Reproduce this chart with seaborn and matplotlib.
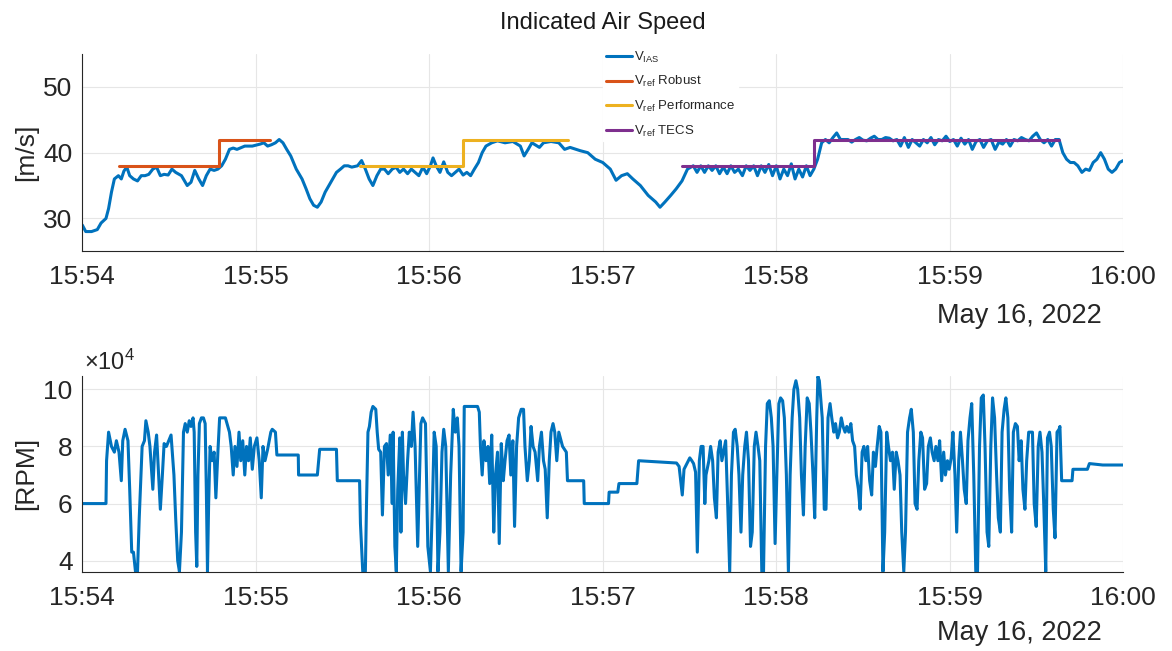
import numpy as np
import pandas as pd
import matplotlib
matplotlib.use("Agg")
import matplotlib.pyplot as plt
import matplotlib.dates as mdates
import seaborn as sns

# ---------------------------------------------------------------- data
START = pd.Timestamp("2022-05-16 15:54:00")

# indicated air speed, seconds after 15:54:00 and m/s
ias_sec = [
    0.0, 1.2, 3.2, 5.2, 6.5, 8.2, 9.1, 10.1, 11.1, 12.5,
    13.5, 14.4, 15.4, 16.4, 17.7, 19.1, 20.4, 21.7, 23.0, 24.4,
    25.7, 27.0, 28.3, 29.7, 31.0, 32.3, 34.3, 36.3, 37.6, 38.9,
    40.3, 41.6, 42.9, 44.2, 45.6, 46.9, 48.2, 49.5, 50.9, 52.2,
    53.5, 56.2, 58.8, 61.5, 62.8, 64.1, 65.4, 66.8, 68.1, 69.4,
    70.7, 72.1, 74.0, 76.0, 77.4, 78.7, 80.0, 81.3, 82.6, 84.0,
    85.3, 86.6, 87.9, 89.3, 90.6, 91.9, 93.2, 95.2, 96.6, 97.9,
    99.2, 100.5, 101.9, 103.2, 104.5, 105.8, 107.2, 108.5, 109.8, 111.1,
    112.5, 113.8, 115.1, 116.4, 117.8, 119.1, 120.4, 121.3, 122.4, 123.7,
    125.0, 126.4, 127.7, 129.0, 130.3, 131.7, 133.0, 134.3, 135.6, 137.0,
    138.3, 139.6, 141.6, 143.6, 146.2, 148.9, 151.5, 152.8, 154.2, 155.5,
    158.1, 159.5, 162.1, 164.8, 166.8, 168.7, 170.1,
    172.2, 174.8, 177.4, 180.0, 182.6, 184.6, 186.5, 188.5, 190.4, 193.0,
    195.7, 198.3, 199.8, 201.5, 203.5, 205.4, 207.4, 209.3,
    211.3, 212.6, 213.9, 215.2, 216.5, 217.8, 219.1, 220.4, 221.7, 223.0,
    224.3, 225.6, 226.9, 228.3, 229.6, 230.9, 232.2, 233.5, 234.8, 236.1,
    237.4, 238.7, 240.0, 241.3, 242.6, 243.9, 245.2, 246.5, 247.8, 249.1,
    250.4, 251.7, 253.0, 254.3, 255.7, 257.0, 258.3, 259.6, 260.9, 262.2,
    263.5, 264.8, 266.1, 267.4, 268.7, 270.0, 271.3, 272.6, 273.9, 275.2,
    276.5, 277.8, 279.1, 280.4, 281.7, 283.0, 284.3, 285.7, 287.0, 288.3,
    289.6, 290.9, 292.2, 293.5, 294.8, 296.1, 297.4, 298.7, 300.0, 301.3,
    302.6, 303.9, 305.2, 306.5, 307.8, 309.1, 310.4, 311.7, 313.0, 314.3,
    315.7, 317.0, 318.3, 319.6, 320.9, 322.2, 323.5, 324.8, 326.1, 327.4,
    328.7, 330.0, 331.3, 332.6, 333.9, 335.2, 336.5, 337.8, 339.1, 340.4,
    341.7, 343.0, 344.3, 345.7, 347.0, 348.3, 349.6, 350.9, 352.2, 353.5,
    354.8, 356.1, 357.4, 358.7, 360.0,
]
ias_val = [
    29.0, 28.0, 28.0, 28.3, 29.3, 30.0, 31.5, 34.0, 36.0, 36.5,
    36.0, 37.2, 37.8, 36.5, 36.0, 35.7, 36.5, 36.5, 36.7, 37.5,
    37.8, 36.5, 36.7, 36.6, 37.5, 37.0, 36.5, 35.0, 35.5, 37.3,
    36.0, 35.0, 36.5, 37.5, 37.3, 37.5, 38.0, 39.0, 40.5, 40.7,
    40.5, 41.0, 41.0, 41.3, 41.5, 41.0, 41.2, 41.5, 42.0, 41.5,
    40.5, 39.5, 37.5, 36.0, 34.5, 33.0, 32.0, 31.7, 32.5, 34.0,
    35.0, 36.0, 37.0, 37.5, 38.0, 38.0, 37.8, 38.0, 38.8, 37.5,
    36.0, 35.0, 36.5, 37.5, 37.5, 36.8, 37.5, 37.8, 37.0, 37.5,
    36.8, 37.5, 37.0, 36.5, 37.8, 36.8, 38.0, 39.2, 38.0, 37.0,
    38.6, 37.0, 36.5, 37.0, 37.5, 36.6, 37.0, 36.5, 37.5, 38.5,
    40.0, 41.0, 41.5, 41.8, 41.5, 41.7, 41.0, 39.5, 40.5, 41.5,
    40.8, 41.5, 41.7, 41.5, 40.5, 40.8, 40.6,
    40.3, 40.0, 39.0, 38.5, 37.5, 35.8, 36.5, 36.8, 36.0, 35.0,
    33.5, 32.5, 31.7, 32.5, 33.5, 34.5, 35.7, 37.5,
    38.0, 37.0, 38.0, 37.0, 38.0, 37.3, 38.0, 36.8, 37.8, 36.8,
    38.0, 37.0, 37.5, 36.5, 38.0, 37.3, 38.0, 36.5, 38.0, 37.0,
    38.2, 36.5, 38.0, 36.0, 37.5, 36.5, 38.3, 36.0, 37.5, 36.3,
    38.0, 36.5, 37.5, 39.0, 41.5, 42.0, 41.5, 42.3, 43.0, 42.0,
    42.0, 42.0, 41.6, 42.0, 42.3, 41.9, 41.8, 42.2, 42.5, 42.0,
    42.0, 42.3, 42.2, 41.8, 42.0, 41.0, 42.3, 40.8, 42.0, 41.5,
    41.0, 42.0, 41.5, 42.3, 41.2, 42.0, 41.8, 42.5, 41.7, 42.0,
    41.0, 42.2, 41.3, 42.0, 40.5, 41.7, 42.0, 40.8, 41.8, 42.0,
    40.5, 41.6, 41.3, 42.0, 41.0, 42.0, 41.8, 42.3, 42.0, 41.8,
    42.5, 43.0, 42.0, 41.5, 42.0, 41.0, 42.0, 42.0, 40.0, 39.0,
    38.5, 38.5, 38.0, 37.0, 37.5, 37.3, 38.5, 39.0, 40.0, 39.0,
    37.5, 37.0, 37.5, 38.5, 38.8,
]

# speed references of the three controllers (step changes)
robust_sec = [12.7, 47.3, 64.9]
robust_val = [38, 42, 42]
perf_sec = [95.9, 131.5, 168.1]
perf_val = [38, 42, 42]
tecs_sec = [207.5, 252.9, 337.8]
tecs_val = [38, 42, 42]

# motor speed, seconds after 15:54:00 and rpm in units of 1e4
rpm_sec = [
    0.0, 8.2, 8.4, 9.1, 10.1, 11.1, 11.8, 12.7, 13.5, 14.0,
    14.8, 15.8, 16.4, 17.1, 17.7, 18.4, 19.1, 19.7, 20.7, 21.5,
    22.0, 22.8, 23.4, 24.4, 25.0, 25.7, 26.4, 27.0, 27.7, 28.3,
    29.1, 29.9, 30.7, 31.7, 32.3, 33.0, 33.6, 34.3, 35.0, 35.6,
    36.3, 37.0, 37.6, 38.3, 38.7, 39.2, 39.6, 40.0, 40.5, 41.2,
    41.9, 42.5, 42.9, 43.3, 43.7, 44.2, 44.9, 45.6, 46.2, 46.9,
    47.5, 49.5, 50.9, 51.5, 52.2, 52.8, 53.5, 54.2, 54.8, 55.5,
    56.2, 56.8, 57.5, 58.1, 58.8, 59.5, 60.4, 61.2, 61.9, 62.5,
    63.2, 64.1, 65.2, 65.7, 66.8, 67.3, 74.7, 74.8, 81.3, 82.1,
    87.9, 88.2, 95.9, 96.2, 97.0, 97.9, 98.3, 98.8, 99.3, 99.9,
    100.5, 101.5, 102.0, 102.5, 103.2, 103.8, 104.5, 105.2, 105.8, 106.5,
    107.2, 107.5, 108.1, 108.6, 109.1, 109.8, 110.2, 110.7, 111.1, 111.8,
    112.5, 113.1, 113.8, 114.4, 115.1, 115.5, 116.0, 117.1, 117.7, 118.7,
    119.5, 120.4, 121.1, 121.7, 122.4, 123.0, 123.7, 124.4, 125.0, 125.7,
    126.6, 127.4, 128.3, 129.0, 129.7, 130.3, 131.0, 131.7, 132.1, 136.7,
    137.3, 137.7, 138.3, 138.9, 139.6, 140.3, 140.9, 141.6, 142.3, 142.9,
    143.6, 144.2, 144.9, 145.6, 146.2, 146.9, 147.6, 148.2, 148.9, 149.5,
    150.2, 150.9, 151.8, 152.6, 153.1, 153.9, 154.6, 155.2, 155.9, 156.6,
    157.5, 158.1, 158.8, 159.5, 160.1, 160.8, 161.5, 162.1, 162.8, 163.4,
    164.1, 164.8, 166.1, 167.4, 167.8, 173.4, 173.6, 182.0, 182.2, 185.2,
    185.6, 191.8, 192.4, 205.5, 206.4, 207.5, 208.1, 209.1, 210.1, 210.8,
    211.4, 212.1, 212.7, 213.4, 214.0, 214.7, 215.3, 215.7, 216.7, 217.3,
    218.0, 218.6, 219.3, 219.9, 220.6, 221.2, 222.5, 223.2, 223.9, 224.5,
    225.2, 225.8, 226.5, 227.1, 227.8, 228.4, 229.1, 229.7, 230.4, 231.1,
    231.7, 232.4, 233.0, 233.7, 234.3, 235.0, 235.6, 236.3, 236.9, 237.6,
    238.3, 238.9, 239.6, 240.2, 240.9, 241.5, 242.2, 242.8, 243.5, 244.2,
    244.8, 245.5, 246.1, 246.8, 247.4, 248.1, 248.7, 249.4, 250.0, 250.7,
    251.4, 252.0, 252.7, 253.3, 254.0, 254.4, 254.9, 255.9, 256.6, 257.2,
    257.9, 258.6, 259.2, 259.9, 260.5, 261.2, 261.8, 262.5, 263.1, 263.8,
    264.4, 265.1, 265.8, 266.4, 267.1, 267.7, 268.4, 269.0, 269.7, 270.3,
    271.0, 271.6, 272.3, 273.0, 273.6, 274.3, 274.9, 275.6, 276.2, 276.9,
    277.5, 278.2, 278.8, 279.5, 280.2, 280.8, 281.5, 282.1, 282.8, 283.4,
    284.1, 284.7, 285.4, 286.1, 286.7, 287.4, 288.0, 288.7, 289.3, 290.0,
    290.6, 291.3, 292.0, 292.6, 293.3, 293.9, 294.6, 295.2, 295.9, 296.5,
    297.2, 297.9, 298.5, 299.2, 299.8, 300.5, 301.1, 301.8, 302.4, 303.1,
    303.7, 304.4, 305.0, 305.7, 306.3, 307.0, 307.6, 308.3, 309.0, 309.6,
    310.3, 310.9, 311.6, 312.2, 312.9, 313.5, 314.2, 314.8, 315.5, 316.2,
    316.8, 317.5, 318.1, 318.8, 319.4, 320.1, 320.7, 321.4, 322.0, 322.7,
    323.4, 324.0, 324.7, 325.3, 326.0, 326.6, 327.3, 327.9, 328.6, 329.2,
    329.9, 330.6, 331.2, 331.9, 332.5, 333.2, 333.8, 334.5, 335.1, 335.8,
    336.4, 337.1, 337.8, 338.1, 338.7, 342.3, 342.6, 347.6, 348.3, 352.9,
    360.0,
]
rpm_val = [
    6.0, 6.0, 7.5, 8.5, 8.0, 7.8, 8.2, 7.8, 6.8, 8.2,
    8.6, 8.2, 6.5, 4.3, 4.3, 3.62, 3.62, 5.5, 8.0, 8.2,
    8.9, 8.5, 8.0, 6.5, 7.8, 8.4, 7.0, 5.8, 7.0, 8.1,
    8.0, 8.2, 8.4, 7.0, 5.5, 4.0, 3.62, 5.0, 8.5, 8.8,
    8.5, 8.9, 8.7, 9.0, 8.5, 5.0, 3.8, 7.0, 8.8, 9.0,
    9.0, 8.8, 6.5, 3.62, 6.0, 8.0, 7.5, 7.8, 6.2, 7.8,
    9.0, 9.0, 8.5, 8.0, 7.0, 8.0, 7.3, 8.5, 7.5, 8.2,
    7.0, 8.0, 7.5, 8.3, 7.2, 8.0, 8.3, 7.5, 6.2, 8.0,
    7.5, 7.9, 8.5, 8.6, 8.5, 7.7, 7.7, 7.0, 7.0, 7.9,
    7.9, 6.8, 6.8, 5.3, 3.62, 3.62, 6.0, 8.5, 8.7, 9.2,
    9.4, 9.3, 8.5, 7.9, 7.8, 5.6, 8.0, 8.1, 7.0, 8.4,
    6.0, 8.5, 4.5, 3.62, 6.5, 8.3, 5.0, 8.5, 7.0, 6.0,
    7.5, 8.5, 8.0, 9.2, 8.0, 6.5, 4.5, 8.8, 9.0, 8.8,
    4.5, 3.62, 6.0, 8.5, 8.0, 3.62, 5.0, 7.8, 8.6, 8.0,
    3.62, 7.0, 9.3, 8.5, 9.0, 8.0, 3.62, 5.0, 9.4, 9.4,
    9.2, 8.0, 7.0, 8.2, 7.5, 8.0, 6.7, 8.4, 5.0, 7.0,
    7.8, 4.6, 8.1, 6.8, 7.5, 8.2, 8.4, 7.0, 8.2, 5.2,
    8.0, 9.0, 9.3, 9.3, 8.0, 6.8, 7.5, 8.7, 8.0, 7.8,
    6.8, 8.0, 8.5, 7.5, 7.2, 5.5, 7.5, 8.5, 8.8, 8.5,
    7.5, 8.5, 8.0, 7.8, 6.8, 6.8, 6.0, 6.0, 6.4, 6.4,
    6.7, 6.7, 7.5, 7.42, 7.3, 6.3, 7.2, 7.4, 7.6, 7.5,
    7.4, 7.1, 4.3, 7.5, 8.0, 8.0, 6.0, 7.0, 7.5, 8.0,
    7.5, 6.2, 5.5, 7.8, 8.2, 7.5, 8.2, 6.0, 3.62, 7.0,
    8.5, 8.6, 8.0, 7.0, 5.0, 7.0, 8.0, 8.5, 7.5, 4.5,
    5.0, 8.0, 8.5, 8.0, 7.5, 3.62, 3.62, 8.0, 9.5, 9.6,
    9.0, 8.0, 4.6, 7.0, 9.5, 9.7, 9.6, 9.0, 7.0, 3.62,
    7.0, 9.0, 10.0, 10.3, 10.0, 9.0, 7.0, 5.6, 8.0, 9.7,
    9.5, 8.5, 7.0, 5.5, 9.0, 10.45, 10.3, 9.0, 5.8, 5.8,
    9.0, 9.5, 9.0, 8.5, 8.8, 8.3, 8.5, 9.0, 8.7, 8.5,
    8.7, 8.5, 8.8, 8.2, 8.0, 7.0, 6.5, 5.8, 7.8, 8.0,
    7.5, 8.0, 6.8, 6.3, 7.8, 7.3, 8.0, 8.7, 8.5, 3.62,
    5.0, 8.5, 8.0, 7.5, 7.8, 6.5, 7.8, 7.5, 7.0, 5.0,
    3.62, 5.0, 8.5, 9.0, 9.3, 8.5, 6.0, 5.8, 7.5, 8.5,
    8.3, 6.5, 6.7, 8.0, 8.3, 7.8, 7.5, 8.0, 7.5, 8.2,
    6.8, 7.8, 7.0, 7.5, 7.2, 7.6, 8.5, 7.0, 5.0, 7.5,
    8.5, 7.5, 6.5, 6.0, 8.2, 9.0, 9.5, 7.0, 3.62, 3.62,
    8.0, 9.7, 9.8, 8.0, 5.0, 4.5, 8.0, 9.7, 9.0, 7.0,
    5.5, 5.0, 8.5, 9.3, 9.7, 9.0, 6.5, 5.0, 8.5, 8.8,
    8.7, 7.5, 8.2, 6.5, 5.8, 7.5, 8.5, 8.5, 8.5, 6.0,
    5.2, 8.0, 8.5, 7.8, 6.0, 3.62, 8.3, 8.5, 8.0, 5.8,
    4.8, 8.5, 8.6, 8.7, 6.8, 6.8, 7.2, 7.2, 7.4, 7.35,
    7.35,
]

ias_labels = [r"$\mathregular{V_{IAS}}$",
              r"$\mathregular{V_{ref}}$ Robust",
              r"$\mathregular{V_{ref}}$ Performance",
              r"$\mathregular{V_{ref}}$ TECS"]

# ---------------------------------------------------------------- style
sns.set_style("white")
plt.rcParams["font.family"] = ["Liberation Sans", "DejaVu Sans"]
plt.rcParams["mathtext.fontset"] = "custom"
plt.rcParams["mathtext.rm"] = "Liberation Sans"

BLUE, ORANGE, YELLOW, PURPLE = "#0072BD", "#D95319", "#EDB120", "#7E2F8E"
DARK = "#262626"
GRID = "#e6e6e6"
TICK_FS = 19


def to_time(sec):
    return START + pd.to_timedelta(np.asarray(sec, dtype=float), unit="s")


def style_axis(ax):
    ax.set_xlim(START, START + pd.Timedelta(minutes=6))
    ax.xaxis.set_major_locator(mdates.MinuteLocator())
    ax.xaxis.set_major_formatter(mdates.DateFormatter("%H:%M"))
    ax.grid(True, color=GRID, lw=0.8)
    ax.set_axisbelow(True)
    for side in ("top", "right"):
        ax.spines[side].set_visible(False)
    for side in ("left", "bottom"):
        ax.spines[side].set_color(DARK)
        ax.spines[side].set_linewidth(0.8)
    ax.tick_params(direction="in", length=6, width=0.8, colors=DARK,
                   labelsize=TICK_FS)
    ax.tick_params(axis="x", pad=10)
    ax.tick_params(axis="y", pad=7)
    ax.set_xlabel("")


fig = plt.figure(figsize=(11.72, 6.51), dpi=100)
ax1 = fig.add_axes([0.0702, 0.614, 0.8882, 0.303])
ax2 = fig.add_axes([0.0702, 0.1218, 0.8882, 0.3006])

# ---------------------------------------------------------------- top panel
sns.lineplot(x=to_time(ias_sec), y=ias_val, ax=ax1, color=BLUE, lw=2.2,
             estimator=None, sort=False, label=ias_labels[0])
for sec, val, col, lab in [(robust_sec, robust_val, ORANGE, ias_labels[1]),
                           (perf_sec, perf_val, YELLOW, ias_labels[2]),
                           (tecs_sec, tecs_val, PURPLE, ias_labels[3])]:
    sns.lineplot(x=to_time(sec), y=val, ax=ax1, color=col, lw=2.2,
                 estimator=None, sort=False, drawstyle="steps-post", label=lab)
ax1.set_ylim(25, 55)
ax1.set_yticks([30, 40, 50])
style_axis(ax1)
ax1.set_ylabel("[m/s]", fontsize=19, color=DARK, labelpad=4)
ax1.set_title("Indicated Air Speed", fontsize=17, color="#1a1a1a", pad=18)

handles, labels = ax1.get_legend_handles_labels()
leg = ax1.legend(handles, labels, loc="upper left",
                 bbox_to_anchor=(603 / 1172, 1 - 47 / 651),
                 bbox_transform=fig.transFigure, frameon=True,
                 fancybox=False, framealpha=1, edgecolor="white",
                 facecolor="white", fontsize=9.5, handlelength=2.0,
                 handletextpad=0.15, labelspacing=0.72, borderpad=0.2,
                 borderaxespad=0)
for line in leg.get_lines():
    line.set_linewidth(2.2)
for txt in leg.get_texts():
    txt.set_color(DARK)

fig.text(1102 / 1172, 1 - 316 / 651, "May 16, 2022", ha="right",
         va="center", fontsize=19.5, color=DARK)

# ---------------------------------------------------------------- bottom panel
sns.lineplot(x=to_time(rpm_sec), y=rpm_val, ax=ax2, color=BLUE, lw=2.2,
             estimator=None, sort=False)
ax2.set_ylim(3.615, 10.465)
ax2.set_yticks([4, 6, 8, 10])
style_axis(ax2)
ax2.set_ylabel("[RPM]", fontsize=19, color=DARK, labelpad=4)
if ax2.get_legend() is not None:
    ax2.get_legend().remove()
fig.text(84 / 1172, 1 - 362 / 651, r"$\times\mathregular{10^{4}}$",
         ha="left", va="center", fontsize=17, color=DARK)
fig.text(1102 / 1172, 1 - 633 / 651, "May 16, 2022", ha="right",
         va="center", fontsize=19.5, color=DARK)

fig.savefig("out.png", dpi=100)
